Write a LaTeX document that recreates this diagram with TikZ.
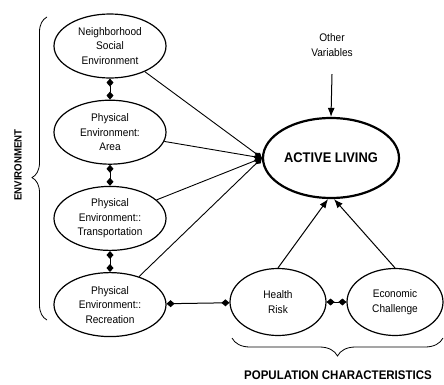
\documentclass[tikz,border=0pt]{standalone}
\usepackage{fontspec}
\setmainfont{Liberation Sans}[FakeStretch=0.92]
\usepackage{tikz}
\usetikzlibrary {arrows.meta,positioning,shapes.geometric,decorations.pathreplacing}

\tikzset{
  factor/.style={ellipse, draw, line width=1.2pt, align=center, inner sep=0pt,
    minimum width=112pt, minimum height=64pt, font=\fontsize{11}{14.5}\selectfont},
  popfactor/.style={factor, minimum width=96pt, minimum height=67pt},
  outcome/.style={ellipse, draw, line width=2.2pt, inner sep=0pt,
    minimum width=136pt, minimum height=80pt, font=\bfseries\fontsize{14}{16}\selectfont},
  link/.style={line width=1pt, {Diamond[length=8pt,width=7pt]}-{Diamond[length=8pt,width=7pt]}},
  feed/.style={line width=0.9pt, -{Diamond[length=9pt,width=6pt]}},
  effect/.style={line width=1pt, -{Latex[length=9pt,width=7pt]}},
  grouping/.style={line width=0.8pt, decorate},
  grouplabel/.style={font=\bfseries\fontsize{12.5}{15}\selectfont}
}

\begin{document}
\begin{tikzpicture}[x=1pt,y=1pt]
      \useasboundingbox (0,0) rectangle (444,384);

      \node[factor] (social) at (110,338) {Neighborhood\\ Social\\ Environment};
      \node[factor, below=21pt of social] (area) {Physical\\ Environment:\\ Area};
      \node[factor, below=21pt of area] (transport) {Physical\\ Environment::\\ Transportation};
      \node[factor, below=21pt of transport] (recreation) {Physical\\ Environment::\\ Recreation};

      \node[outcome] (living) at (331,226) {ACTIVE LIVING};
      \node[align=center, font=\fontsize{11}{15}\selectfont] (other) at (332,339) {Other\\ Variables};

      \node[popfactor] (health) at (278,82) {Health\\ Risk};
      \node[popfactor] (economic) at (395,82) {Economic\\ Challenge};

      % Edges
      \draw[link] (social) -- (area);
      \draw[link] (area) -- (transport);
      \draw[link] (transport) -- (recreation);
      \draw[link] (recreation) -- (health);
      \draw[link] (health) -- (economic);

      \draw[feed] (social) -- (living.west);
      \draw[feed] (area) -- (living.west);
      \draw[feed] (transport) -- (living.west);
      \draw[feed] (recreation) -- (living.west);

      \draw[effect] ([yshift=-14pt]other.south) -- (living.north);
      \draw[effect] (health.north) -- ([xshift=-3pt]living.south);
      \draw[effect] (economic.north) -- ([xshift=3pt]living.south);

      % Groups
      \draw[grouping, decoration={brace, amplitude=15pt, aspect=0.47}]
        (47,64) coordinate (envlow) -- (47,367) coordinate (envhigh);
      \node[grouplabel, font=\bfseries\fontsize{10.5}{12}\selectfont, rotate=90] (envlabel) at (18,219) {ENVIRONMENT};

      \draw[grouping, decoration={brace, amplitude=18pt}]
        (443,46) coordinate (popright) -- (232,46) coordinate (popleft);
      \node[grouplabel] (poplabel) at (338,9) {POPULATION CHARACTERISTICS};
\end{tikzpicture}
\end{document}
